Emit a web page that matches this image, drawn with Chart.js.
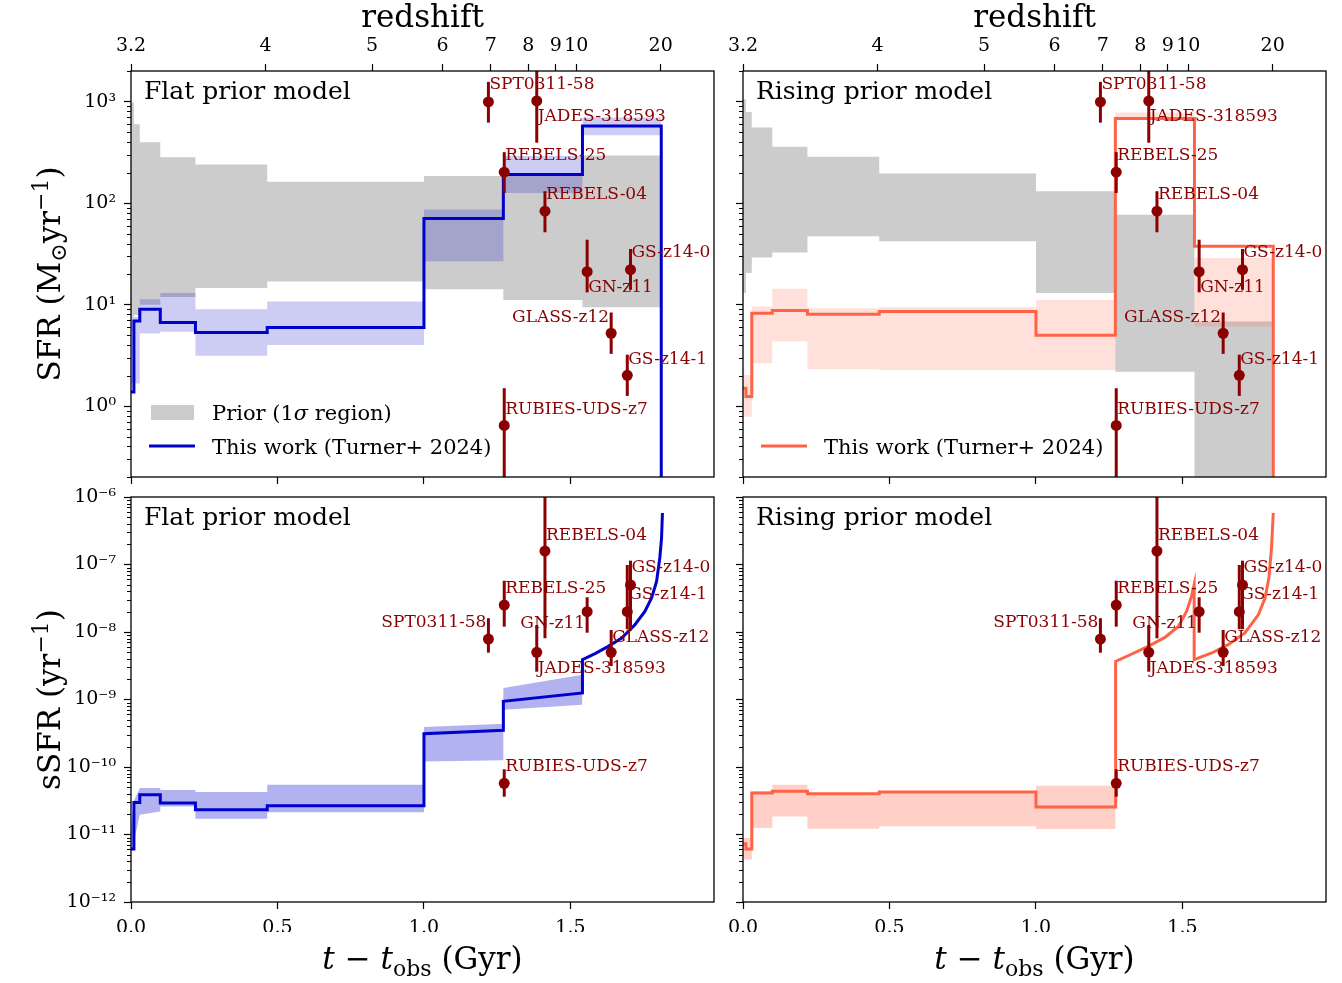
<!DOCTYPE html>
<html>
<head>
<meta charset="utf-8">
<script src="https://cdn.jsdelivr.net/npm/chart.js@4.4.1/dist/chart.umd.min.js"></script>
<style>
  body { margin: 0; background: #fff; }
  #wrap { position: relative; width: 1342px; height: 983px; }
  #wrap canvas { position: absolute; left: 0; top: 0; }
</style>
</head>
<body>
<div id="wrap">
  <canvas id="p1" width="1342" height="983"></canvas>
  <canvas id="p2" width="1342" height="983"></canvas>
  <canvas id="p3" width="1342" height="983"></canvas>
  <canvas id="p4" width="1342" height="983"></canvas>
</div>
<script>
// ---- data ----
// SFH bins in t - t_obs (Gyr)
const binEdges = [0, 0.01, 0.03, 0.1, 0.22, 0.465, 1.0, 1.271, 1.541, 1.81];

// SFR per bin (Msun/yr)
const sfrFlatPriorHi = [977, 598, 398, 284, 240, 162, 185, 192, 295];
const sfrFlatPriorLo = [7.6, 7.9, 9.95, 11.9, 14.6, 16.9, 14.2, 11.1, 9.4];
const sfrFlatHi = [7.6, 7.6, 11.3, 13.0, 9.0, 10.7, 86.5, 291, 697];
const sfrFlatLo = [1.67, 1.67, 5.2, 5.4, 3.14, 4.0, 26.7, 126, 466];
const sfrFlat = [1.38, 6.9, 9.0, 6.65, 5.3, 5.94, 70.5, 192, 575];

const sfrRisingPriorHi = [1057, 791, 555, 360, 286, 196, 131, 77, 6.8];
const sfrRisingPriorLo = [13.0, 20.5, 29.2, 32.7, 47.1, 42.1, 13.0, 2.18, 0.03];
const sfrRisingHi = [2.02, 2.02, 9.57, 14.3, 9.23, 9.44, 11.1, 780, 28.8];
const sfrRisingLo = [0.785, 0.785, 2.64, 4.33, 2.30, 2.27, 2.27, 661, 6.08];
const sfrRising = [1.50, 1.24, 8.24, 8.75, 8.05, 8.55, 4.99, 681, 37.5];

// sSFR (1/yr)
const ssfrFlatT = [0, 0.01, 0.01, 0.03, 0.03, 0.1, 0.1, 0.22, 0.22, 0.465, 0.465, 1.0, 1.0, 1.271, 1.271, 1.541,
  1.541, 1.584, 1.629, 1.675, 1.720, 1.754, 1.777, 1.794, 1.805, 1.811, 1.814];
const ssfrFlat = [6.1e-12, 6.1e-12, 2.99e-11, 2.99e-11, 3.89e-11, 3.89e-11, 2.93e-11, 2.93e-11, 2.33e-11, 2.33e-11,
  2.67e-11, 2.67e-11, 3.11e-10, 3.49e-10, 9.38e-10, 1.25e-9,
  3.89e-9, 4.78e-9, 6.12e-9, 8.15e-9, 1.28e-8, 2.02e-8, 3.19e-8, 5.62e-8, 1.25e-7, 2.47e-7, 5.79e-7];
const ssfrFlatBandT = [0, 0.01, 0.03, 0.1, 0.1, 0.22, 0.22, 0.465, 0.465, 1.0, 1.0, 1.271, 1.271, 1.541];
const ssfrFlatHi = [1.26e-11, 3.16e-11, 4.9e-11, 4.9e-11, 4.58e-11, 4.58e-11, 4.27e-11, 4.27e-11, 5.47e-11, 5.47e-11,
  3.92e-10, 4.38e-10, 1.48e-9, 2.33e-9];
const ssfrFlatLo = [5.6e-12, 7.9e-12, 1.96e-11, 2.19e-11, 2.61e-11, 2.61e-11, 1.71e-11, 1.71e-11, 2.13e-11, 2.13e-11,
  1.21e-10, 1.26e-10, 7.06e-10, 8.38e-10];

const ssfrRisingT = [0, 0.01, 0.01, 0.03, 0.03, 0.1, 0.1, 0.22, 0.22, 0.465, 0.465, 1.0, 1.0, 1.272,
  1.272, 1.327, 1.383, 1.44, 1.486, 1.514, 1.531, 1.540,
  1.540, 1.6, 1.656, 1.713, 1.759, 1.782, 1.795, 1.804, 1.810];
const ssfrRising = [7.31e-12, 7.31e-12, 6.1e-12, 6.1e-12, 4.12e-11, 4.12e-11, 4.36e-11, 4.36e-11, 4.02e-11, 4.02e-11,
  4.26e-11, 4.26e-11, 2.55e-11, 2.55e-11,
  3.67e-9, 4.72e-9, 6.12e-9, 8.32e-9, 1.21e-8, 2.02e-8, 3.37e-8, 5.02e-8,
  3.89e-9, 4.89e-9, 6.49e-9, 9.66e-9, 1.80e-8, 3.19e-8, 6.31e-8, 1.75e-7, 5.79e-7];
const ssfrRisingBandT = [0, 0.03, 0.03, 0.1, 0.1, 0.22, 0.22, 0.465, 0.465, 1.0, 1.0, 1.272];
const ssfrRisingHi = [8.9e-12, 8.9e-12, 4.37e-11, 4.37e-11, 5.47e-11, 5.47e-11, 4.07e-11, 4.07e-11, 4.37e-11, 4.37e-11, 5.28e-11, 5.28e-11];
const ssfrRisingLo = [4.27e-12, 4.27e-12, 1.25e-11, 1.25e-11, 1.85e-11, 1.85e-11, 1.22e-11, 1.22e-11, 1.32e-11, 1.32e-11, 1.21e-11, 1.21e-11];

// observed galaxies
const galaxies = ['SPT0311-58', 'JADES-318593', 'REBELS-25', 'REBELS-04', 'GN-z11', 'GS-z14-0', 'GLASS-z12', 'GS-z14-1', 'RUBIES-UDS-z7'];
const galaxyT = [1.220, 1.385, 1.274, 1.413, 1.557, 1.705, 1.639, 1.694, 1.274];
const galaxySFR = [993, 1016, 202, 83.2, 21.1, 22.1, 5.22, 2.01, 0.644];
const galaxySFRHi = [1567, 4000, 318, 131, 43.6, 35.3, 8.36, 3.21, 1.50];
const galaxySFRLo = [621, 394, 126, 51.6, 13.2, 14.0, 3.27, 1.26, 0.05];
const galaxySSFR = [7.87e-9, 5.0e-9, 2.51e-8, 1.58e-7, 2.0e-8, 4.97e-8, 5.0e-9, 2.0e-8, 5.73e-11];
const galaxySSFRHi = [1.6e-8, 1.27e-8, 5.75e-8, 3.2e-6, 3.27e-8, 1.14e-7, 1.07e-8, 9.84e-8, 9.25e-11];
const galaxySSFRLo = [4.94e-9, 2.58e-9, 1.2e-8, 8.07e-9, 9.77e-9, 1.10e-8, 3.13e-9, 1.10e-8, 3.63e-11];

// ticks
const tTicks = [0, 0.5, 1.0, 1.5];
const zTickLabels = ['3.2', '4', '5', '6', '7', '8', '9', '10', '20'];
const zTickT = [0, 0.459, 0.823, 1.063, 1.228, 1.356, 1.450, 1.520, 1.808];
const sfrMajor = [1, 10, 100, 1000];
const ssfrMajor = [1e-12, 1e-11, 1e-10, 1e-9, 1e-8, 1e-7, 1e-6];

// ---- styling ----
const W = 1342, H = 983;
const FONT = 'DejaVu Serif';
const DARKRED = '#8b0000';
const T_MAX = 1.99;
const TOPH = 60, BOTH = 30;

// label side (1 right of point, -1 left of it) and vertical offset in px
const labelPos = {
  sfr: {'SPT0311-58': [1, -17], 'JADES-318593': [1, 16], 'REBELS-25': [1, -17], 'REBELS-04': [1, -17],
        'GN-z11': [1, 16], 'GS-z14-0': [1, -17], 'GLASS-z12': [-1, -16], 'GS-z14-1': [1, -16], 'RUBIES-UDS-z7': [1, -16]},
  ssfr: {'SPT0311-58': [-1, -16], 'JADES-318593': [1, 16], 'REBELS-25': [1, -16], 'REBELS-04': [1, -16],
        'GN-z11': [-1, 12], 'GS-z14-0': [1, -17], 'GLASS-z12': [1, -15], 'GS-z14-1': [1, -17], 'RUBIES-UDS-z7': [1, -17]}
};

const panels = [
  {canvas: 'p1', area: {l: 131, t: 71, r: 714, b: 477}, kind: 'sfr', title: 'Flat prior model', color: '#0000cd',
   band: 'rgba(0,0,205,0.2)', prior: [sfrFlatPriorHi, sfrFlatPriorLo], hi: sfrFlatHi, lo: sfrFlatLo, line: sfrFlat,
   yLabels: true, legendPrior: true},
  {canvas: 'p2', area: {l: 743, t: 71, r: 1326, b: 477}, kind: 'sfr', title: 'Rising prior model', color: '#ff6347',
   band: 'rgba(255,99,71,0.2)', prior: [sfrRisingPriorHi, sfrRisingPriorLo], hi: sfrRisingHi, lo: sfrRisingLo, line: sfrRising,
   yLabels: false, legendPrior: false},
  {canvas: 'p3', area: {l: 131, t: 497, r: 714, b: 902}, kind: 'ssfr', title: 'Flat prior model', color: '#0000cd',
   band: 'rgba(0,0,205,0.3)', bandT: ssfrFlatBandT, hi: ssfrFlatHi, lo: ssfrFlatLo, lineT: ssfrFlatT, line: ssfrFlat,
   yLabels: true},
  {canvas: 'p4', area: {l: 743, t: 497, r: 1326, b: 902}, kind: 'ssfr', title: 'Rising prior model', color: '#ff6347',
   band: 'rgba(255,99,71,0.3)', bandT: ssfrRisingBandT, hi: ssfrRisingHi, lo: ssfrRisingLo, lineT: ssfrRisingT, line: ssfrRising,
   yLabels: false}
];

function stepData(edges, vals, drop) {
  const d = vals.map((v, i) => ({x: edges[i], y: v}));
  d.push({x: edges[vals.length], y: vals[vals.length - 1]});
  if (drop !== undefined) d.push({x: edges[vals.length], y: drop});
  return d;
}
function xyData(ts, vals) { return ts.map((t, i) => ({x: t, y: vals[i]})); }

function sup(n) {
  const m = {'-': '⁻', '0': '⁰', '1': '¹', '2': '²', '3': '³', '4': '⁴', '5': '⁵', '6': '⁶', '7': '⁷', '8': '⁸', '9': '⁹'};
  return String(n).split('').map(c => m[c]).join('');
}

// text with mixed sizes / italics, y is the baseline
function drawRich(ctx, parts, x, y, base, align) {
  const fonts = parts.map(pt => (pt.it ? 'italic ' : '') + Math.round(base * (pt.s || 1)) + 'px "' + FONT + '"');
  const widths = parts.map((pt, i) => { ctx.font = fonts[i]; return ctx.measureText(pt.t).width; });
  const total = widths.reduce((a, b) => a + b, 0);
  let cx = align === 'center' ? x - total / 2 : x;
  ctx.textAlign = 'left';
  ctx.textBaseline = 'alphabetic';
  parts.forEach((pt, i) => {
    ctx.font = fonts[i];
    ctx.fillText(pt.t, cx, y + (pt.dy || 0) * base);
    cx += widths[i];
  });
}

function deco(p) {
  const isSFR = p.kind === 'sfr';
  return {
    id: 'deco',
    beforeDatasetDraw(chart, args) {
      if (args.index !== chart.data.datasets.length - 1) return;
      const ctx = chart.ctx, xs = chart.scales.x, ys = chart.scales.y, a = chart.chartArea;
      const val = isSFR ? galaxySFR : galaxySSFR;
      const hi = isSFR ? galaxySFRHi : galaxySSFRHi;
      const lo = isSFR ? galaxySFRLo : galaxySSFRLo;
      const place = labelPos[p.kind];
      ctx.save();
      ctx.fillStyle = DARKRED;
      ctx.font = '17px "' + FONT + '"';
      ctx.textBaseline = 'middle';
      galaxies.forEach((g, i) => {
        const px = xs.getPixelForValue(galaxyT[i]);
        const py = ys.getPixelForValue(val[i]);
        const [side, dy] = place[g];
        ctx.textAlign = side > 0 ? 'left' : 'right';
        ctx.fillText(g, px + (side > 0 ? 1 : -2), py + dy);
      });
      ctx.beginPath();
      ctx.rect(a.left, a.top, a.right - a.left, a.bottom - a.top);
      ctx.clip();
      ctx.strokeStyle = DARKRED;
      ctx.lineWidth = 3;
      galaxies.forEach((g, i) => {
        const px = xs.getPixelForValue(galaxyT[i]);
        ctx.beginPath();
        ctx.moveTo(px, ys.getPixelForValue(hi[i]));
        ctx.lineTo(px, ys.getPixelForValue(lo[i]));
        ctx.stroke();
      });
      ctx.restore();
    },
    afterDraw(chart) {
      const ctx = chart.ctx, a = chart.chartArea, ys = chart.scales.y;
      ctx.save();
      // frame
      ctx.strokeStyle = '#000';
      ctx.lineWidth = 1.3;
      ctx.strokeRect(a.left, a.top, a.right - a.left, a.bottom - a.top);
      // minor log ticks
      ctx.lineWidth = 1;
      const lo = ys.min, hi = ys.max;
      for (let e = Math.floor(Math.log10(lo)); e <= Math.ceil(Math.log10(hi)); e++) {
        for (let k = 2; k <= 9; k++) {
          const v = k * Math.pow(10, e);
          if (v < lo || v > hi) continue;
          const py = Math.round(ys.getPixelForValue(v)) + 0.5;
          ctx.beginPath();
          ctx.moveTo(a.left, py);
          ctx.lineTo(a.left - 4, py);
          ctx.stroke();
        }
      }
      ctx.fillStyle = '#000';
      // panel title
      ctx.font = '25px "' + FONT + '"';
      ctx.textAlign = 'left';
      ctx.textBaseline = 'alphabetic';
      ctx.fillText(p.title, a.left + 13, a.top + 28);
      const cx = (a.left + a.right) / 2;
      if (isSFR) {
        ctx.font = '31px "' + FONT + '"';
        ctx.textAlign = 'center';
        ctx.fillText('redshift', cx, 27);
        // legend
        if (p.legendPrior) {
          ctx.fillStyle = '#cccccc';
          ctx.fillRect(a.left + 20, a.bottom - 72, 43, 15);
          ctx.fillStyle = '#000';
          drawRich(ctx, [{t: 'Prior (1'}, {t: 'σ', it: true}, {t: ' region)'}], a.left + 81, a.bottom - 57, 21, 'left');
        }
        ctx.strokeStyle = p.color;
        ctx.lineWidth = 3;
        ctx.beginPath();
        ctx.moveTo(a.left + 18, a.bottom - 31);
        ctx.lineTo(a.left + 64, a.bottom - 31);
        ctx.stroke();
        ctx.fillStyle = '#000';
        drawRich(ctx, [{t: 'This work (Turner+ 2024)'}], a.left + 81, a.bottom - 23.5, 21, 'left');
      } else {
        drawRich(ctx, [{t: 't', it: true}, {t: ' − '}, {t: 't', it: true}, {t: 'obs', s: 0.7, dy: 0.22}, {t: ' (Gyr)'}],
          cx, 969, 31, 'center');
      }
      if (p.yLabels) {
        ctx.translate(60, (a.top + a.bottom) / 2);
        ctx.rotate(-Math.PI / 2);
        if (isSFR) {
          drawRich(ctx, [{t: 'SFR (M'}, {t: '⊙', s: 0.7, dy: 0.2}, {t: 'yr'}, {t: '−1', s: 0.7, dy: -0.4}, {t: ')'}], 0, 0, 31, 'center');
        } else {
          drawRich(ctx, [{t: 'sSFR (yr'}, {t: '−1', s: 0.7, dy: -0.4}, {t: ')'}], 0, 0, 31, 'center');
        }
      }
      ctx.restore();
    }
  };
}

function tickGrid() {
  return {display: true, drawOnChartArea: false, drawTicks: true, tickLength: 7, tickWidth: 1.2, tickColor: '#000'};
}
function tickFont() { return {family: FONT, size: 19}; }

function makeChart(p) {
  const isSFR = p.kind === 'sfr';
  const ds = [];
  const fillStyle = {borderWidth: 0, borderColor: 'transparent', pointRadius: 0};
  if (isSFR) {
    ds.push(Object.assign({data: stepData(binEdges, p.prior[0]), stepped: true, fill: '+1', backgroundColor: '#cccccc', order: 6}, fillStyle));
    ds.push(Object.assign({data: stepData(binEdges, p.prior[1]), stepped: true, fill: false, order: 6}, fillStyle));
    ds.push(Object.assign({data: stepData(binEdges, p.hi), stepped: true, fill: '+1', backgroundColor: p.band, order: 5}, fillStyle));
    ds.push(Object.assign({data: stepData(binEdges, p.lo), stepped: true, fill: false, order: 5}, fillStyle));
    ds.push({data: stepData(binEdges, p.line, 1e-4), stepped: true, fill: false, borderColor: p.color, borderWidth: 3, pointRadius: 0, order: 2});
  } else {
    ds.push(Object.assign({data: xyData(p.bandT, p.hi), fill: '+1', backgroundColor: p.band, order: 5}, fillStyle));
    ds.push(Object.assign({data: xyData(p.bandT, p.lo), fill: false, order: 5}, fillStyle));
    ds.push({data: xyData(p.lineT, p.line), fill: false, borderColor: p.color, borderWidth: 3, pointRadius: 0, tension: 0, order: 2});
  }
  ds.push({
    data: xyData(galaxyT, isSFR ? galaxySFR : galaxySSFR), showLine: false,
    pointRadius: 5.5, pointBackgroundColor: DARKRED, pointBorderWidth: 0, order: 0
  });

  const scales = {
    x: {
      type: 'linear', position: 'bottom', min: 0, max: T_MAX,
      afterBuildTicks: s => { s.ticks = tTicks.map(v => ({value: v})); },
      afterFit: s => { s.height = BOTH; },
      grid: tickGrid(), border: {display: false},
      ticks: {display: !isSFR, color: '#000', font: tickFont(), padding: 8, maxRotation: 0, autoSkip: false,
              callback: v => v.toFixed(1)}
    },
    y: {
      type: 'logarithmic', position: 'left',
      min: isSFR ? 0.2 : 1e-12, max: isSFR ? 2005 : 1e-6,
      afterBuildTicks: s => { s.ticks = (isSFR ? sfrMajor : ssfrMajor).map(v => ({value: v})); },
      afterFit: s => { s.width = p.area.l; },
      grid: tickGrid(), border: {display: false},
      ticks: {display: p.yLabels, color: '#000', font: tickFont(), padding: 8, autoSkip: false,
              callback: v => '10' + sup(Math.round(Math.log10(v)))}
    }
  };
  if (isSFR) {
    scales.xTop = {
      type: 'linear', position: 'top', min: 0, max: T_MAX,
      afterBuildTicks: s => { s.ticks = zTickT.map(v => ({value: v})); },
      afterFit: s => { s.height = TOPH; },
      grid: tickGrid(), border: {display: false},
      ticks: {display: true, color: '#000', font: tickFont(), padding: 7, maxRotation: 0, autoSkip: false,
              callback: (v, i) => zTickLabels[i]}
    };
  }

  return new Chart(document.getElementById(p.canvas), {
    type: 'line',
    data: {datasets: ds},
    options: {
      responsive: false, animation: false, events: [],
      layout: {padding: {left: 0, right: W - p.area.r, top: isSFR ? p.area.t - TOPH : p.area.t, bottom: H - p.area.b - BOTH}},
      plugins: {legend: {display: false}, tooltip: {enabled: false}},
      scales: scales
    },
    plugins: [deco(p)]
  });
}

panels.forEach(makeChart);
</script>
</body>
</html>
